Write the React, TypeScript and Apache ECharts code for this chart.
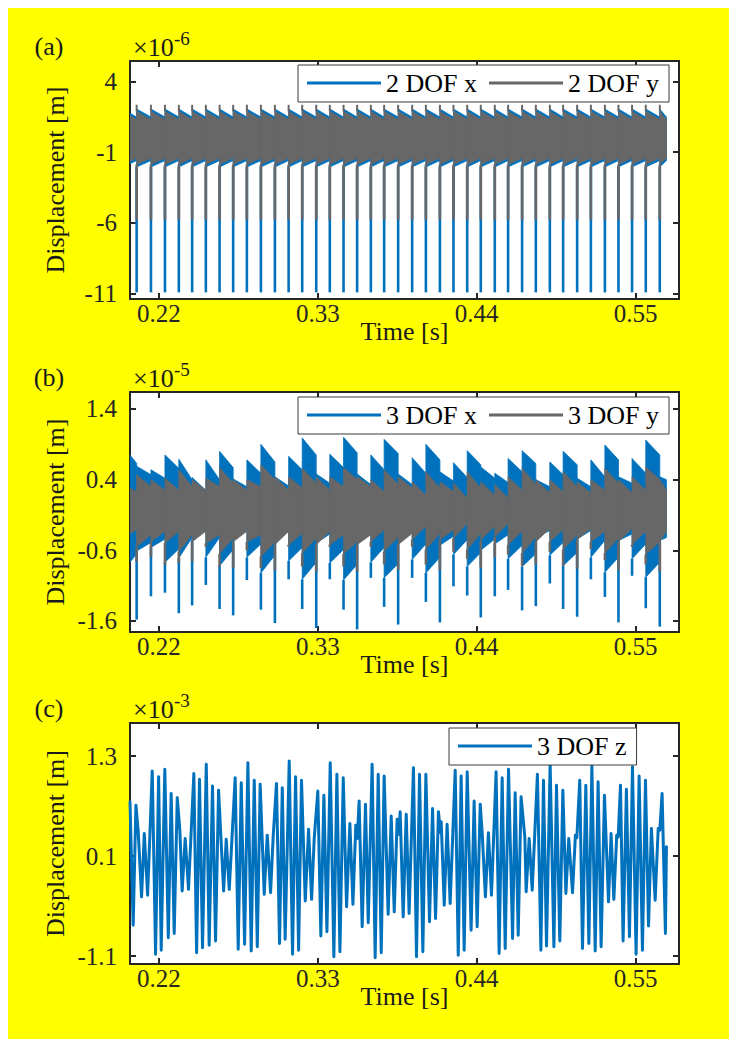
import React, { useEffect, useRef } from 'react';
import * as echarts from 'echarts';

const FONT = '"Liberation Serif", "Times New Roman", serif';
const BLUE = '#0072BD';
const GRAY = '#676767';
const AXIS = '#262626';

// ---- axes ----
const X_RANGE = [0.2, 0.58];
const X_TICKS = [0.22, 0.33, 0.44, 0.55];
const A_Y_RANGE = [-11.4, 5.45];
const A_Y_TICKS = [4, -1, -6, -11];
const B_Y_RANGE = [-1.756, 1.64];
const B_Y_TICKS = [1.4, 0.4, -0.6, -1.6];
const C_Y_RANGE = [-1.196, 1.696];
const C_Y_TICKS = [1.3, 0.1, -1.1];
const EXPONENTS = ['-6', '-5', '-3'];
const TAGS = ['(a)', '(b)', '(c)'];

// ---- shared impact instants (s) ----
const T_START = 0.2;
const T_END = 0.5713;
const SPIKE_T = [
  0.2046, 0.2145, 0.2242, 0.2338, 0.2430, 0.2525, 0.2620, 0.2714, 0.2809, 0.2906,
  0.3003, 0.3098, 0.3192, 0.3289, 0.3383, 0.3478, 0.3572, 0.3667, 0.3759, 0.3856,
  0.3953, 0.4048, 0.4145, 0.4239, 0.4334, 0.4428, 0.4525, 0.4617, 0.4714, 0.4809,
  0.4906, 0.4998, 0.5095, 0.5190, 0.5287, 0.5381, 0.5475, 0.5570, 0.5667,
];

// ---- panel (a): 2 DOF, envelope of each impact period (x1e-6 m) ----
const A_X_INIT_TOP = [1.75, 1.48];
const A_X_INIT_BOT = [-1.82, -1.6];
const A_X_TOP = [2.05, 1.48];
const A_X_BOT = [-2.05, -1.6];
const A_X_SPIKE = -10.93;
const A_Y_INIT_TOP = [1.58, 1.3];
const A_Y_INIT_BOT = [-1.65, -1.42];
const A_Y_TOP = [1.88, 1.3];
const A_Y_BOT = [-1.88, -1.42];
const A_Y_SPIKE = -5.78;
const A_Y_TOOTH = 2.35;

// ---- panel (b): 3 DOF x / y, per period (first entry = segment before first impact) (x1e-5 m) ----
const B_X_TOP_START = [0.75, 0.59, 0.54, 0.75, 0.69, 0.43, 0.68, 0.80, 0.41, 0.68, 0.90, 0.44, 0.73, 0.99, 0.48, 0.76, 1.00, 0.48, 0.75, 0.97, 0.48, 0.71, 0.90, 0.51, 0.64, 0.81, 0.58, 0.49, 0.70, 0.81, 0.40, 0.65, 0.80, 0.42, 0.68, 0.89, 0.44, 0.70, 0.96, 0.44];
const B_X_TOP_END = [0.63, 0.47, 0.42, 0.56, 0.40, 0.25, 0.40, 0.57, 0.30, 0.49, 0.65, 0.31, 0.54, 0.75, 0.35, 0.57, 0.78, 0.33, 0.54, 0.77, 0.33, 0.49, 0.68, 0.38, 0.43, 0.61, 0.42, 0.36, 0.51, 0.63, 0.30, 0.47, 0.61, 0.30, 0.44, 0.68, 0.35, 0.49, 0.75, 0.40];
const B_X_BOT_START = [-0.77, -0.61, -0.56, -0.77, -0.71, -0.45, -0.70, -0.82, -0.43, -0.70, -0.92, -0.46, -0.75, -1.01, -0.50, -0.78, -1.02, -0.50, -0.77, -0.99, -0.50, -0.73, -0.92, -0.53, -0.66, -0.83, -0.60, -0.51, -0.72, -0.83, -0.42, -0.67, -0.82, -0.44, -0.70, -0.91, -0.46, -0.72, -0.98, -0.46];
const B_X_BOT_END = [-0.65, -0.49, -0.44, -0.58, -0.42, -0.27, -0.42, -0.59, -0.32, -0.51, -0.67, -0.33, -0.56, -0.77, -0.37, -0.59, -0.80, -0.35, -0.56, -0.79, -0.35, -0.51, -0.70, -0.40, -0.45, -0.63, -0.44, -0.38, -0.53, -0.65, -0.32, -0.49, -0.63, -0.32, -0.46, -0.70, -0.37, -0.51, -0.77, -0.42];
const B_X_SPIKE = [-1.58, -1.25, -1.20, -1.49, -1.38, -1.09, -1.43, -1.52, -1.02, -1.44, -1.63, -1.01, -1.43, -1.70, -1.01, -1.44, -1.72, -0.99, -1.40, -1.65, -0.99, -1.33, -1.62, -1.11, -1.24, -1.55, -1.25, -1.16, -1.45, -1.39, -1.07, -1.43, -1.54, -1.01, -1.26, -1.62, -0.96, -1.42, -1.68];
const B_Y_TOP_START = [0.28, 0.47, 0.40, 0.42, 0.54, 0.40, 0.42, 0.57, 0.40, 0.40, 0.61, 0.44, 0.44, 0.56, 0.44, 0.44, 0.57, 0.44, 0.40, 0.54, 0.44, 0.37, 0.51, 0.37, 0.35, 0.51, 0.37, 0.33, 0.44, 0.56, 0.40, 0.40, 0.51, 0.37, 0.40, 0.56, 0.40, 0.44, 0.58, 0.40];
const B_Y_TOP_END = [0.23, 0.30, 0.25, 0.25, 0.30, 0.25, 0.30, 0.35, 0.25, 0.30, 0.40, 0.25, 0.28, 0.35, 0.25, 0.30, 0.40, 0.30, 0.23, 0.33, 0.28, 0.18, 0.28, 0.23, 0.14, 0.28, 0.18, 0.14, 0.25, 0.33, 0.21, 0.23, 0.30, 0.21, 0.25, 0.35, 0.21, 0.25, 0.40, 0.25];
const B_Y_BOT_START = [-0.36, -0.55, -0.48, -0.50, -0.62, -0.48, -0.50, -0.65, -0.48, -0.48, -0.69, -0.52, -0.52, -0.64, -0.52, -0.52, -0.65, -0.52, -0.48, -0.62, -0.52, -0.45, -0.59, -0.45, -0.43, -0.59, -0.45, -0.41, -0.52, -0.64, -0.48, -0.48, -0.59, -0.45, -0.48, -0.64, -0.48, -0.52, -0.66, -0.48];
const B_Y_BOT_END = [-0.31, -0.38, -0.33, -0.33, -0.38, -0.33, -0.38, -0.43, -0.33, -0.38, -0.48, -0.33, -0.36, -0.43, -0.33, -0.38, -0.48, -0.38, -0.31, -0.41, -0.36, -0.26, -0.36, -0.31, -0.22, -0.36, -0.26, -0.22, -0.33, -0.41, -0.29, -0.31, -0.38, -0.29, -0.33, -0.43, -0.29, -0.33, -0.48, -0.33];
const B_Y_SPIKE = [-0.76, -0.69, -0.81, -0.78, -0.76, -0.55, -0.83, -0.85, -0.60, -0.85, -0.88, -0.55, -0.83, -0.90, -0.55, -0.83, -0.90, -0.55, -0.80, -0.88, -0.55, -0.80, -0.88, -0.62, -0.72, -0.85, -0.70, -0.66, -0.82, -0.80, -0.62, -0.82, -0.86, -0.58, -0.74, -0.88, -0.55, -0.80, -0.90];

// ---- panel (c): 3 DOF z, turning points (x1e-3 m) ----
const C_T = [
  0.2000, 0.2022, 0.2041, 0.2057, 0.2080, 0.2099, 0.2122, 0.2154, 0.2177, 0.2198,
  0.2216, 0.2241, 0.2265, 0.2285, 0.2306, 0.2327, 0.2345, 0.2361, 0.2382, 0.2405,
  0.2442, 0.2461, 0.2481, 0.2502, 0.2528, 0.2548, 0.2571, 0.2592, 0.2613, 0.2648,
  0.2666, 0.2687, 0.2728, 0.2749, 0.2770, 0.2793, 0.2816, 0.2839, 0.2860, 0.2881,
  0.2901, 0.2929, 0.2950, 0.2973, 0.2991, 0.3014, 0.3035, 0.3054, 0.3074, 0.3102,
  0.3125, 0.3146, 0.3167, 0.3187, 0.3213, 0.3236, 0.3257, 0.3275, 0.3300, 0.3321,
  0.3342, 0.3363, 0.3386, 0.3411, 0.3432, 0.3453, 0.3476, 0.3499, 0.3522, 0.3543,
  0.3563, 0.3573, 0.3586, 0.3607, 0.3630, 0.3649, 0.3676, 0.3697, 0.3718, 0.3739,
  0.3759, 0.3787, 0.3808, 0.3829, 0.3849, 0.3859, 0.3870, 0.3891, 0.3912, 0.3932,
  0.3962, 0.3983, 0.4004, 0.4027, 0.4048, 0.4073, 0.4094, 0.4115, 0.4135, 0.4149,
  0.4154, 0.4175, 0.4195, 0.4216, 0.4251, 0.4272, 0.4292, 0.4313, 0.4334, 0.4361,
  0.4382, 0.4403, 0.4424, 0.4437, 0.4460, 0.4481, 0.4502, 0.4534, 0.4555, 0.4576,
  0.4597, 0.4620, 0.4648, 0.4666, 0.4687, 0.4707, 0.4733, 0.4742, 0.4763, 0.4784,
  0.4820, 0.4844, 0.4862, 0.4883, 0.4908, 0.4934, 0.4952, 0.4975, 0.4996, 0.5017,
  0.5037, 0.5063, 0.5083, 0.5093, 0.5113, 0.5132, 0.5155, 0.5176, 0.5197, 0.5220,
  0.5240, 0.5261, 0.5284, 0.5312, 0.5330, 0.5349, 0.5369, 0.5379, 0.5395, 0.5413,
  0.5436, 0.5457, 0.5478, 0.5503, 0.5524, 0.5547, 0.5568, 0.5589, 0.5609, 0.5635,
  0.5656, 0.5667, 0.5683, 0.5706, 0.5713,
];
const C_V = [
  0.75, -0.73, 0.71, 0.39, -0.39, 0.37, -0.37, 1.12, -1.08, 1.05,
  -1.03, 1.14, -0.88, 0.85, -0.83, 0.80, 0.41, -0.32, 0.31, -0.30,
  1.09, -1.06, 1.02, -1.00, 1.20, -0.97, 0.94, -0.92, 0.89, -0.32,
  0.30, -0.30, 1.04, -1.02, 0.98, -0.96, 1.22, -1.04, 1.01, -0.99,
  0.96, -0.36, 0.35, -0.34, 0.33, 0.97, -0.95, 0.92, -0.90, 1.24,
  -1.08, 1.05, -1.03, 1.01, -0.44, 0.42, -0.42, 0.31, 0.88, -0.86,
  0.83, -0.81, 1.22, -1.11, 1.08, -1.05, 1.04, -0.51, 0.49, -0.48,
  0.47, 0.31, 0.76, -0.75, 0.72, -0.70, 1.20, -1.12, 1.08, -1.06,
  1.06, -0.60, 0.58, -0.57, 0.54, 0.36, 0.63, -0.63, 0.60, -0.59,
  1.16, -1.11, 1.08, -1.05, 1.08, -0.69, 0.67, -0.65, 0.63, 0.38,
  0.51, -0.49, 0.48, -0.47, 1.13, -1.09, 1.06, -1.03, 1.11, -0.79,
  0.76, -0.75, 0.72, 0.40, -0.39, 0.38, -0.37, 1.11, -1.07, 1.04,
  -1.01, 1.14, -0.89, 0.86, -0.85, 0.81, 0.33, -0.33, 0.31, -0.31,
  1.08, -1.03, 1.01, -0.98, 1.21, -0.99, 0.95, -0.92, 0.89, -0.35,
  0.31, -0.34, 0.35, 0.32, 1.01, -1.01, 0.95, -0.95, 1.19, -1.04,
  0.99, -0.99, 0.83, -0.45, 0.37, -0.42, 0.35, 0.33, 0.95, -0.92,
  0.90, -0.87, 1.17, -1.08, 1.06, -1.03, 1.01, -0.74, 0.43, -0.43,
  0.43, 0.41, 0.85, -0.83, 0.21,
];

// ---- layout (chart-local px) ----
const GRID_LEFT = 122;
const GRID_W = 549;
const GRID_TOPS = [53, 384, 715];
const GRID_HS = [238, 240, 241];

const SEG_START = [T_START, ...SPIKE_T];
const SEG_END = [...SPIKE_T, T_END];

function rows(topS: number[], topE: number[], botS: number[], botE: number[], spikes: number[], teeth: number[] | null) {
  return SEG_START.map((t0, i) => {
    const sp = i === 0 ? botS[i] : spikes[i - 1];
    const th = i === 0 || !teeth ? topS[i] : teeth[i - 1];
    return [t0, SEG_END[i], topS[i], topE[i], botS[i], botE[i], sp, th];
  });
}

const rep = (first: number, rest: number) => SEG_START.map((_, i) => (i === 0 ? first : rest));
const A_X_ROWS = rows(
  rep(A_X_INIT_TOP[0], A_X_TOP[0]), rep(A_X_INIT_TOP[1], A_X_TOP[1]),
  rep(A_X_INIT_BOT[0], A_X_BOT[0]), rep(A_X_INIT_BOT[1], A_X_BOT[1]),
  SPIKE_T.map(() => A_X_SPIKE), null,
);
const A_Y_ROWS = rows(
  rep(A_Y_INIT_TOP[0], A_Y_TOP[0]), rep(A_Y_INIT_TOP[1], A_Y_TOP[1]),
  rep(A_Y_INIT_BOT[0], A_Y_BOT[0]), rep(A_Y_INIT_BOT[1], A_Y_BOT[1]),
  SPIKE_T.map(() => A_Y_SPIKE), SPIKE_T.map(() => A_Y_TOOTH),
);
const B_X_ROWS = rows(B_X_TOP_START, B_X_TOP_END, B_X_BOT_START, B_X_BOT_END, B_X_SPIKE, null);
const B_Y_ROWS = rows(B_Y_TOP_START, B_Y_TOP_END, B_Y_BOT_START, B_Y_BOT_END, B_Y_SPIKE, null);

const bandRenderer = (color: string, spikeW: number, toothW: number) => (_params: any, api: any) => {
  const t0 = api.value(0), t1 = api.value(1);
  const ts = api.value(2), te = api.value(3), bs = api.value(4), be = api.value(5);
  const sp = api.value(6), th = api.value(7);
  const a = api.coord([t0, ts]);
  const b = api.coord([t1, te]);
  const c = api.coord([t1, be]);
  const d = api.coord([t0, bs]);
  const children: any[] = [
    { type: 'polygon', shape: { points: [a, b, c, d] }, style: { fill: color, stroke: color, lineWidth: 0.8 } },
  ];
  if (sp < bs) {
    const s = api.coord([t0, sp]);
    children.push({ type: 'line', shape: { x1: d[0], y1: d[1], x2: s[0], y2: s[1] }, style: { stroke: color, lineWidth: spikeW, fill: null } });
  }
  if (th > ts) {
    const h = api.coord([t0, th]);
    children.push({ type: 'line', shape: { x1: a[0], y1: a[1], x2: h[0], y2: h[1] }, style: { stroke: color, lineWidth: toothW, fill: null } });
  }
  return { type: 'group', children };
};

const bandSeries = (name: string, color: string, idx: number, data: number[][], spikeW: number, toothW: number) => ({
  type: 'custom',
  name,
  xAxisIndex: idx,
  yAxisIndex: idx,
  data,
  encode: { x: [0, 1], y: [2, 3, 4, 5, 6, 7] },
  renderItem: bandRenderer(color, spikeW, toothW),
  itemStyle: { color },
  clip: true,
  silent: true,
});

const tickStyle = { color: AXIS, width: 2 };
const labelFont = { fontFamily: FONT, fontSize: 25, color: AXIS };

function xAxes(gi: number) {
  const base = {
    type: 'value', gridIndex: gi, min: X_RANGE[0], max: X_RANGE[1],
    axisLine: { show: true, onZero: false, lineStyle: tickStyle },
    axisTick: { show: true, inside: true, length: 6, lineStyle: tickStyle, customValues: X_TICKS },
    splitLine: { show: false },
  };
  return [
    { ...base, position: 'bottom', axisLabel: { show: true, customValues: X_TICKS, formatter: (v: number) => v.toFixed(2), margin: 2, ...labelFont } },
    { ...base, position: 'top', axisLabel: { show: false } },
  ];
}

function yAxes(gi: number, range: number[], ticks: number[], digits: number) {
  const base = {
    type: 'value', gridIndex: gi, min: range[0], max: range[1],
    axisLine: { show: true, onZero: false, lineStyle: tickStyle },
    axisTick: { show: true, inside: true, length: 6, lineStyle: tickStyle, customValues: ticks },
    splitLine: { show: false },
  };
  return [
    { ...base, position: 'left', axisLabel: { show: true, customValues: ticks, formatter: (v: number) => v.toFixed(digits), margin: 13, ...labelFont } },
    { ...base, position: 'right', axisLabel: { show: false } },
  ];
}

const legendBase = {
  orient: 'horizontal',
  itemWidth: 74,
  itemHeight: 3,
  itemGap: 12,
  padding: [5, 10, 6, 9],
  borderColor: '#3a3a3a',
  borderWidth: 1,
  backgroundColor: '#ffffff',
  selectedMode: false,
  textStyle: { fontFamily: FONT, fontSize: 26, color: '#000000', lineHeight: 26 },
};

function txt(text: string, x: number, y: number, size: number, align: string, extra: any = {}) {
  return {
    type: 'text', x, y, silent: true, ...extra,
    style: {
      text, fontFamily: FONT, fontSize: size, fill: '#1a1a1a',
      align, verticalAlign: 'middle', textAlign: align, textVerticalAlign: 'middle',
    },
  };
}

function buildGraphics() {
  const els: any[] = [];
  GRID_TOPS.forEach((top, i) => {
    const h = GRID_HS[i];
    const hy = top - 15;
    els.push(txt(TAGS[i], 41, hy, 26, 'center'));
    els.push(txt('\u00d710', 125, hy + 1, 26, 'left'));
    els.push(txt(EXPONENTS[i], 166, hy - 8, 19, 'left'));
    els.push(txt('Displacement [m]', 47, top + h / 2, 26, 'center', { rotation: Math.PI / 2 }));
    els.push(txt('Time [s]', GRID_LEFT + GRID_W / 2, top + h + 32, 26, 'center'));
  });
  return els;
}

export default function App() {
  const ref = useRef<HTMLDivElement>(null);
  useEffect(() => {
    document.documentElement.style.overflow = 'hidden';
    if (!ref.current) return;
    const chart = echarts.init(ref.current, null, { renderer: 'svg' });
    const option: any = {
      animation: false,
      backgroundColor: '#ffff00',
      grid: GRID_TOPS.map((top, i) => ({ left: GRID_LEFT, top, width: GRID_W, height: GRID_HS[i], show: true, backgroundColor: '#ffffff', borderWidth: 0 })),
      xAxis: [...xAxes(0), ...xAxes(1), ...xAxes(2)],
      yAxis: [
        ...yAxes(0, A_Y_RANGE, A_Y_TICKS, 0),
        ...yAxes(1, B_Y_RANGE, B_Y_TICKS, 1),
        ...yAxes(2, C_Y_RANGE, C_Y_TICKS, 1),
      ],
      legend: [
        { ...legendBase, left: 290, top: 57, data: [{ name: '2 DOF x', icon: 'rect', itemStyle: { color: BLUE } }, { name: '2 DOF y', icon: 'rect', itemStyle: { color: GRAY } }] },
        { ...legendBase, left: 290, top: 389, data: [{ name: '3 DOF x', icon: 'rect', itemStyle: { color: BLUE } }, { name: '3 DOF y', icon: 'rect', itemStyle: { color: GRAY } }] },
        { ...legendBase, left: 441, top: 720, data: [{ name: '3 DOF z', icon: 'rect', itemStyle: { color: BLUE } }] },
      ],
      series: [
        bandSeries('2 DOF x', BLUE, 0, A_X_ROWS, 2.6, 2),
        bandSeries('2 DOF y', GRAY, 0, A_Y_ROWS, 2.6, 2),
        bandSeries('3 DOF x', BLUE, 2, B_X_ROWS, 2.6, 2),
        bandSeries('3 DOF y', GRAY, 2, B_Y_ROWS, 2.6, 2),
        {
          type: 'line', name: '3 DOF z', xAxisIndex: 4, yAxisIndex: 4,
          data: C_T.slice(0, Math.min(C_T.length, C_V.length)).map((t, i) => [t, C_V[i]]),
          showSymbol: false, symbol: 'none', silent: true, clip: true,
          lineStyle: { color: BLUE, width: 3, join: 'round', cap: 'round' }, itemStyle: { color: BLUE },
        },
      ],
      graphic: { elements: buildGraphics() },
    };
    chart.setOption(option);
    return () => chart.dispose();
  }, []);
  return <div ref={ref} style={{ width: 722, height: 1031, background: '#ffff00' }} />;
}
